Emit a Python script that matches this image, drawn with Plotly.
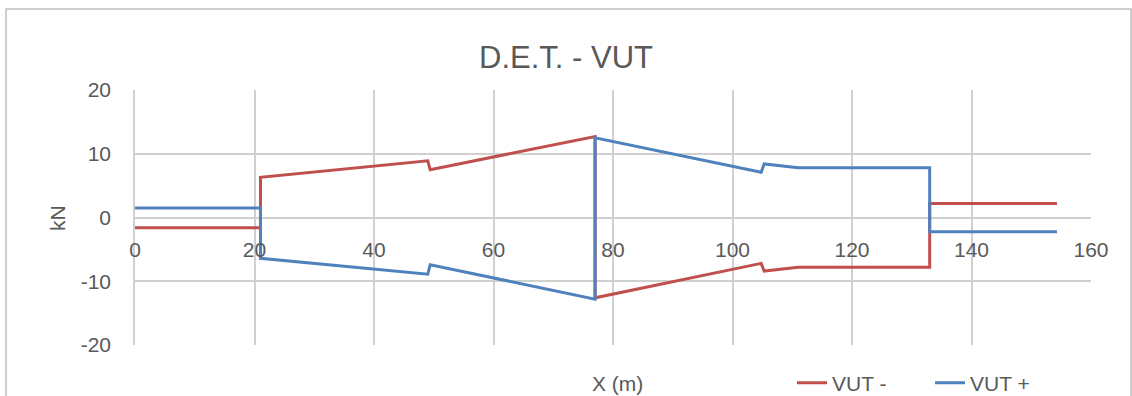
import plotly.graph_objects as go

# VUT - (red)
x_minus = [0, 21, 21, 49, 49.4, 77, 77, 104.8, 105.3, 111, 133, 133, 154.3]
y_minus = [-1.6, -1.6, 6.3, 8.9, 7.5, 12.7, -12.6, -7.2, -8.4, -7.8, -7.8, 2.2, 2.2]
# VUT + (blue)
x_plus = [0, 21, 21, 49, 49.4, 77, 77, 104.8, 105.3, 111, 133, 133, 154.3]
y_plus = [1.5, 1.5, -6.4, -8.9, -7.4, -12.8, 12.5, 7.1, 8.4, 7.8, 7.8, -2.25, -2.25]

x_ticks = [0, 20, 40, 60, 80, 100, 120, 140, 160]
y_ticks = [-20, -10, 0, 10, 20]
y_tick_labels = ["-20", "-10", "0", "10", "20"]

FONT = "Liberation Sans"
GREY = "#595959"
GRID = "#d0d0d0"

L, R, T, B = 135, 41, 90, 51
W, H = 1132, 396
pw, ph = W - L - R, H - T - B

fig = go.Figure()
fig.add_trace(go.Scatter(x=x_minus, y=y_minus, mode="lines", name="VUT -",
                         line=dict(color="#c0504d", width=3)))
fig.add_trace(go.Scatter(x=x_plus, y=y_plus, mode="lines", name="VUT +",
                         line=dict(color="#4f81bd", width=3)))

fig.update_layout(
    width=W, height=H,
    margin=dict(l=L, r=R, t=T, b=B, autoexpand=False),
    paper_bgcolor="white", plot_bgcolor="white",
    font=dict(family=FONT, color=GREY, size=21),
    title=dict(text="D.E.T. - VUT", x=566 / W, xanchor="center",
               y=1 - 57 / H, yanchor="middle", font=dict(size=31, color=GREY, family=FONT)),
    showlegend=True,
    legend=dict(orientation="h", x=(792 - L) / pw, xanchor="left",
                y=(ph - (383 - T)) / ph, yanchor="middle",
                font=dict(size=21, color=GREY, family=FONT),
                bgcolor="rgba(0,0,0,0)", entrywidth=93, entrywidthmode="pixels",
                tracegroupgap=0),
    xaxis=dict(range=[0, 160], tickvals=x_ticks, showgrid=True, gridcolor=GRID, gridwidth=1.5,
               zeroline=False, showline=False, anchor="free", position=0.5,
               ticks="", ticklabelstandoff=17, tickfont=dict(size=21, color=GREY, family=FONT),
               fixedrange=True, automargin=False),
    yaxis=dict(range=[-20, 20], tickvals=y_ticks, ticktext=y_tick_labels,
               showgrid=True, gridcolor=GRID, gridwidth=1.5,
               zeroline=False, showline=True, linecolor=GRID, linewidth=1.5, ticks="",
               ticklabelstandoff=18, tickfont=dict(size=21, color=GREY, family=FONT),
               fixedrange=True, automargin=False),
    annotations=[
        dict(text="kN", xref="paper", yref="paper", x=(57 - L) / pw, y=(ph - (218 - T)) / ph,
             showarrow=False, textangle=-90, font=dict(size=21, color=GREY, family=FONT),
             xanchor="center", yanchor="middle"),
        dict(text="X (m)", xref="paper", yref="paper", x=(617 - L) / pw, y=(ph - (383 - T)) / ph,
             showarrow=False, font=dict(size=21, color=GREY, family=FONT),
             xanchor="center", yanchor="middle"),
    ],
    shapes=[
        dict(type="rect", xref="paper", yref="paper",
             x0=(6 - L) / pw, x1=(1131 - L) / pw, y0=(ph - (420 - T)) / ph, y1=(ph - (9 - T)) / ph,
             line=dict(color="#bfbfbf", width=1.5), fillcolor="rgba(0,0,0,0)", layer="below"),
    ],
)

fig.write_html("out.html")
